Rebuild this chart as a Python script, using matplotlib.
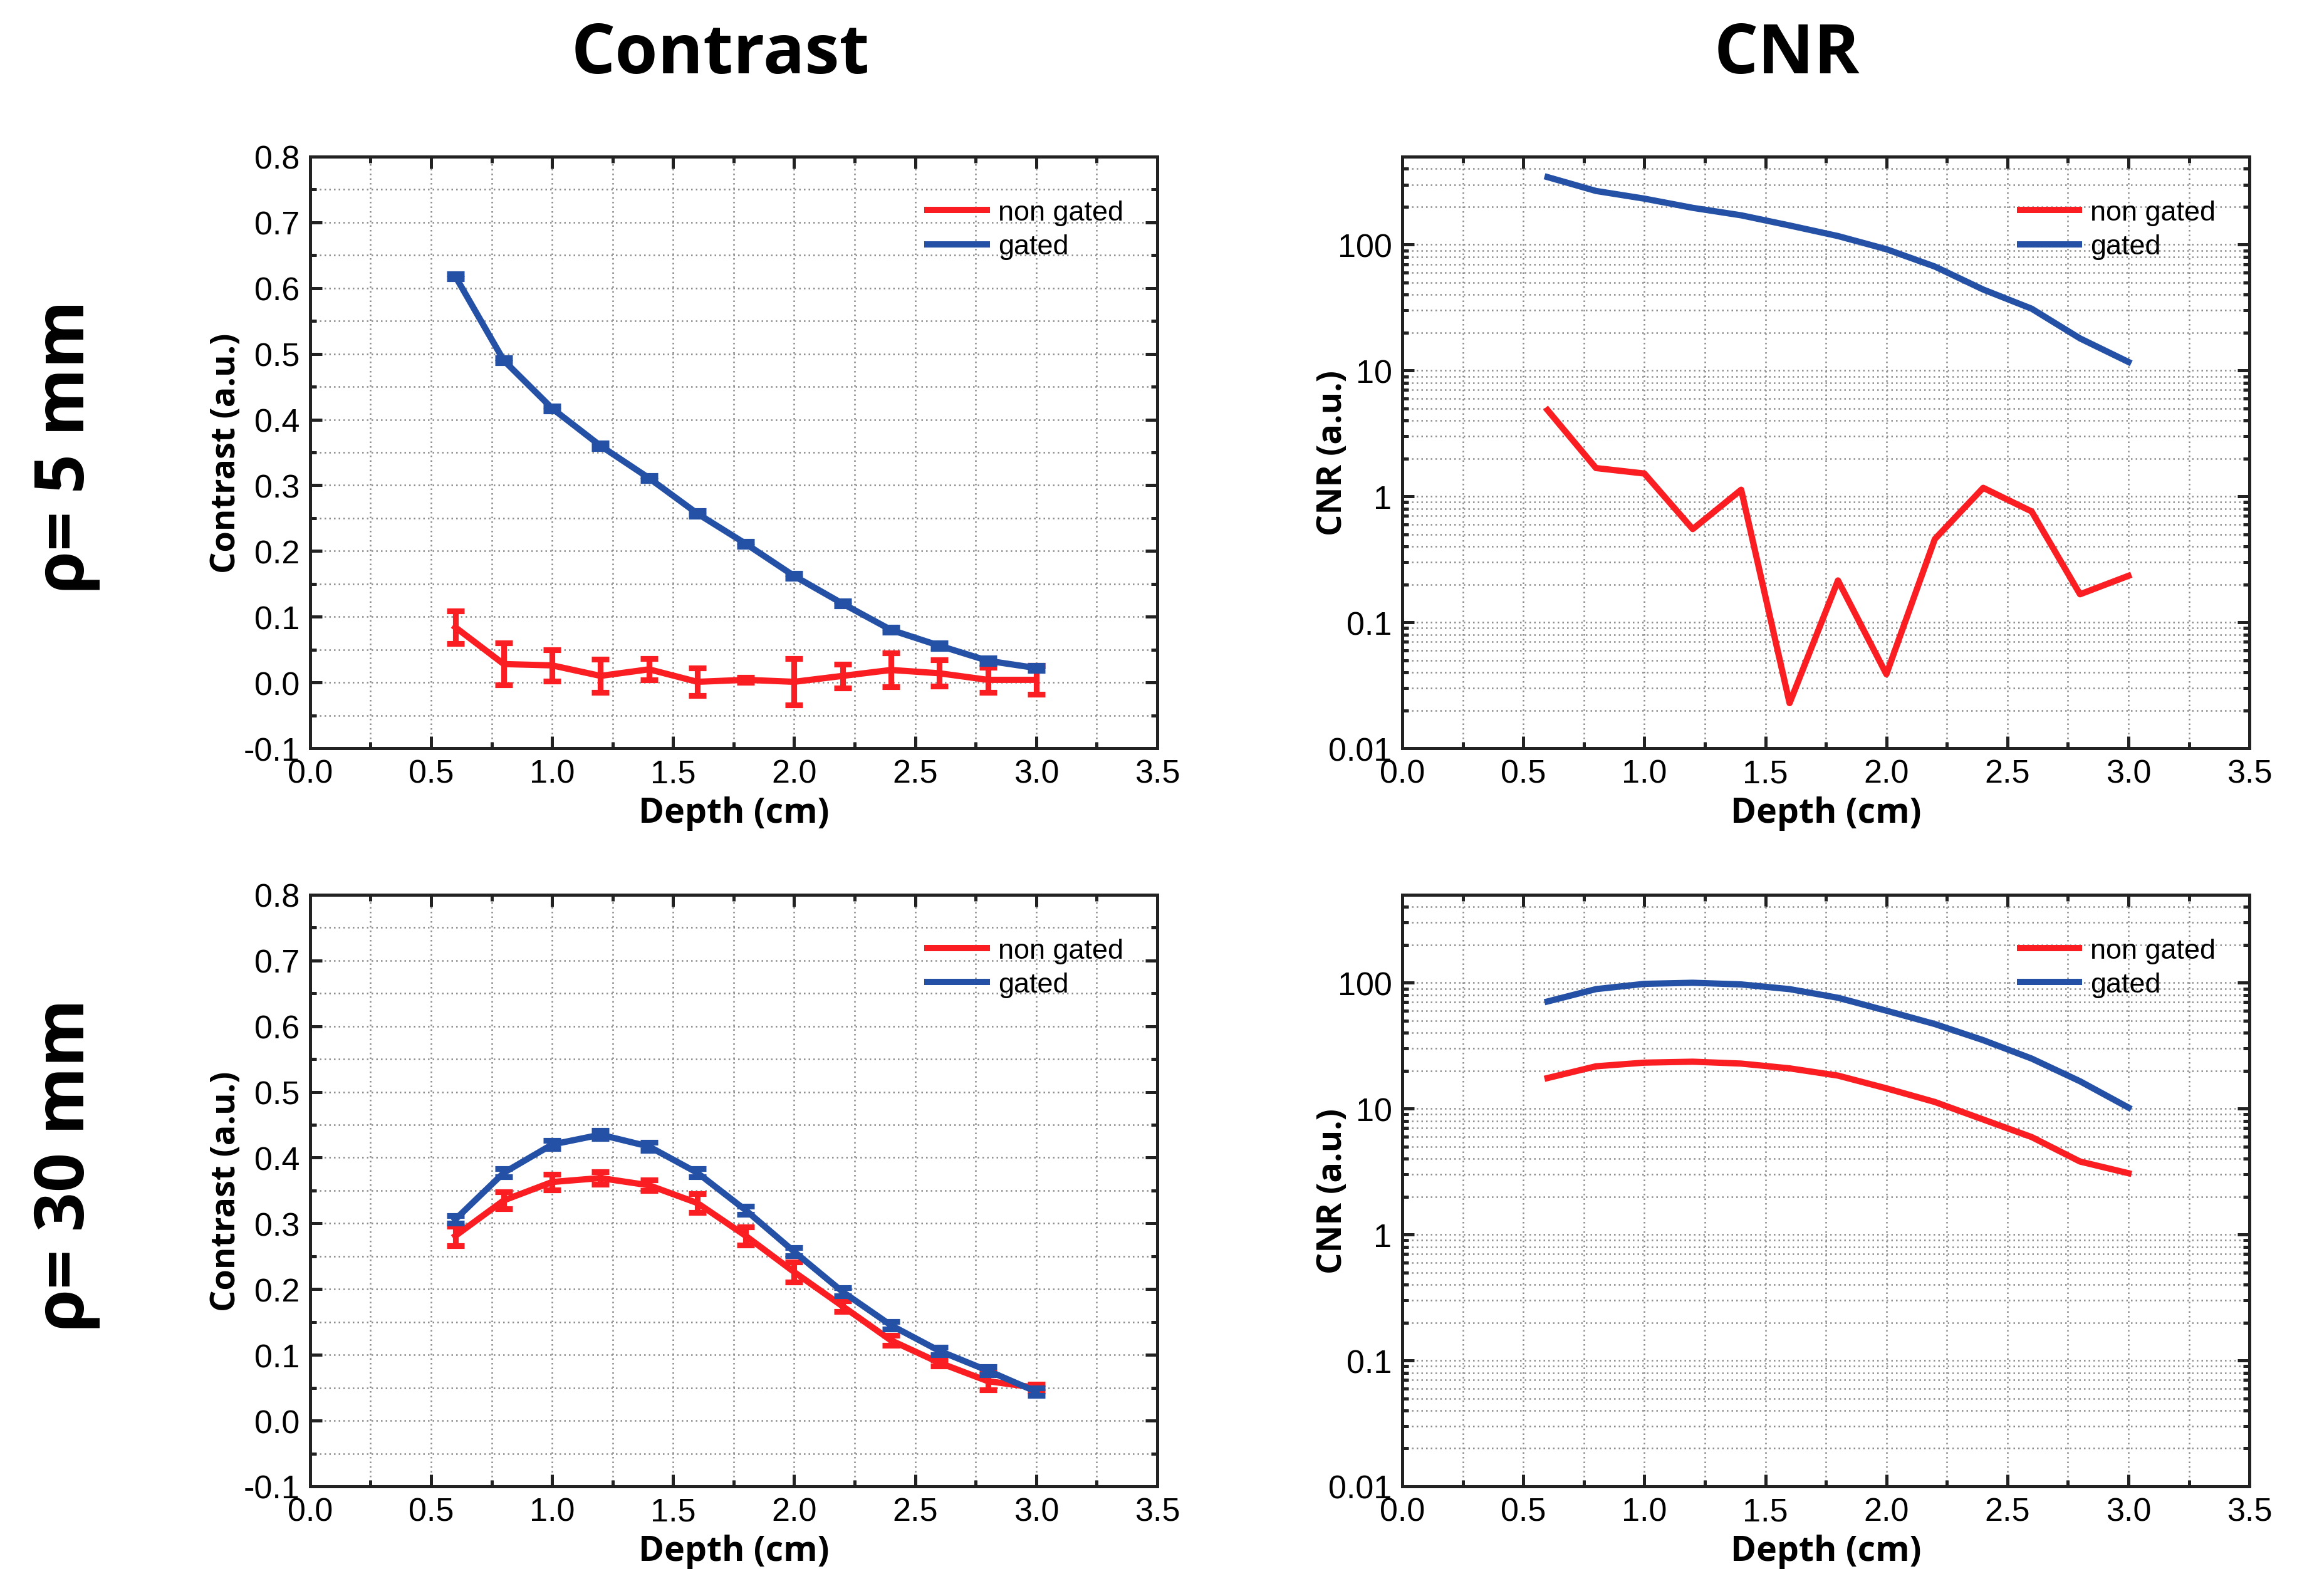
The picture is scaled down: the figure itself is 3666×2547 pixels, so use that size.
import numpy as np
import matplotlib
matplotlib.use("Agg")
import matplotlib.pyplot as plt
from matplotlib.lines import Line2D
from matplotlib.ticker import MultipleLocator, LogLocator, FuncFormatter, NullFormatter

# ---------------- data ----------------
depth = [0.6, 0.8, 1.0, 1.2, 1.4, 1.6, 1.8, 2.0, 2.2, 2.4, 2.6, 2.8, 3.0]

# rho = 5 mm, contrast
c5_gated = [0.618, 0.490, 0.417, 0.360, 0.311, 0.257, 0.211, 0.162, 0.120, 0.080, 0.056, 0.033, 0.022]
c5_gated_err = [0.004] * 13
c5_nongated = [0.084, 0.028, 0.026, 0.010, 0.020, 0.001, 0.004, 0.001, 0.010, 0.019, 0.014, 0.004, 0.004]
c5_nongated_err = [0.025, 0.032, 0.024, 0.025, 0.016, 0.021, 0.004, 0.035, 0.018, 0.026, 0.020, 0.019, 0.022]

# rho = 5 mm, CNR
cnr5_gated = [344, 267, 232, 196, 171, 142, 117, 92, 67, 44, 31, 18, 11.7]
cnr5_nongated = [4.85, 1.68, 1.52, 0.55, 1.13, 0.0228, 0.215, 0.0387, 0.458, 1.17, 0.76, 0.167, 0.234]

# rho = 30 mm, contrast
c30_gated = [0.306, 0.377, 0.420, 0.435, 0.417, 0.377, 0.320, 0.257, 0.196, 0.145, 0.106, 0.076, 0.044]
c30_gated_err = [0.006] * 13
c30_nongated = [0.281, 0.335, 0.363, 0.369, 0.358, 0.331, 0.281, 0.226, 0.174, 0.122, 0.088, 0.060, 0.050]
c30_nongated_err = [0.015, 0.013, 0.012, 0.010, 0.008, 0.014, 0.014, 0.015, 0.008, 0.008, 0.005, 0.013, 0.005]

# rho = 30 mm, CNR
cnr30_gated = [71, 89, 98, 100, 97, 89, 76, 60, 47, 35, 25, 16.5, 10.2]
cnr30_nongated = [17.5, 21.7, 23.2, 23.6, 22.8, 20.9, 18.3, 14.5, 11.3, 8.2, 5.95, 3.8, 3.07]

col_titles = ["Contrast", "CNR"]
row_titles = ["\u03c1= 5 mm", "\u03c1= 30 mm"]
legend_labels = ["non gated", "gated"]

RED = "#fa1e23"
BLUE = "#2450a6"

plt.rcParams['font.family'] = ['Liberation Sans', 'DejaVu Sans']

fig = plt.figure(figsize=(12.22, 8.4933), dpi=300)

W = 0.3688
H = 0.3705
lefts = [0.1350, 0.6105]
bottoms = [0.5310, 0.0687]

bold_font = ['Open Sans', 'DejaVu Sans']
LW = 2.4


def style_axes(ax, log=False):
    for s in ax.spines.values():
        s.set_linewidth(1.2)
        s.set_color('#222222')
    ax.set_xlim(0, 3.5)
    ax.xaxis.set_major_locator(MultipleLocator(0.5))
    ax.xaxis.set_minor_locator(MultipleLocator(0.25))
    ax.xaxis.set_major_formatter(FuncFormatter(lambda v, p: f"{v:.1f}"))
    if log:
        ax.set_yscale('log')
        ax.set_ylim(0.01, 500)
        ax.yaxis.set_major_locator(LogLocator(base=10, numticks=10))
        ax.yaxis.set_minor_locator(LogLocator(base=10, subs=np.arange(2, 10), numticks=20))
        ax.yaxis.set_minor_formatter(NullFormatter())
        ax.yaxis.set_major_formatter(FuncFormatter(lambda v, p: {0.01: "0.01", 0.1: "0.1", 1: "1", 10: "10", 100: "100"}.get(round(v, 3), "")))
    else:
        ax.set_ylim(-0.1, 0.8)
        ax.yaxis.set_major_locator(MultipleLocator(0.1))
        ax.yaxis.set_minor_locator(MultipleLocator(0.05))
        ax.yaxis.set_major_formatter(FuncFormatter(lambda v, p: f"{v:.1f}"))
    ax.tick_params(which='both', direction='in', top=True, right=True, width=1.2, color='#222222')
    ax.tick_params(which='major', length=4.5, labelsize=12.5, pad=4)
    ax.tick_params(which='minor', length=2.5)
    ax.grid(True, which='both', linestyle=(0, (1, 2)), linewidth=0.6, color='#8c8c8c')
    ax.set_axisbelow(True)
    ax.set_xlabel("Depth (cm)", fontsize=13.3, fontweight='bold', family=bold_font, labelpad=2.5)


def add_legend(ax):
    handles = [Line2D([], [], color=RED, lw=LW), Line2D([], [], color=BLUE, lw=LW)]
    ax.legend(handles, legend_labels, loc='upper right', bbox_to_anchor=(0.99, 0.97),
              frameon=False, fontsize=10.8, handlelength=2.1, handletextpad=0.4,
              labelspacing=0.3)


axes = {}
for r in range(2):
    for c in range(2):
        axes[(r, c)] = fig.add_axes([lefts[c], bottoms[r], W, H])

# contrast panels
for r, (g, ge, n, ne) in enumerate([(c5_gated, c5_gated_err, c5_nongated, c5_nongated_err),
                                     (c30_gated, c30_gated_err, c30_nongated, c30_nongated_err)]):
    ax = axes[(r, 0)]
    style_axes(ax, log=False)
    ax.errorbar(depth, n, yerr=ne, color=RED, lw=LW, elinewidth=2.2, capsize=3.4, capthick=2.2, zorder=3)
    ax.errorbar(depth, g, yerr=ge, color=BLUE, lw=LW, elinewidth=2.2, capsize=3.4, capthick=2.2, zorder=4)
    ax.set_ylabel("Contrast (a.u.)", fontsize=13, fontweight='bold', family=bold_font, labelpad=0)
    add_legend(ax)

# CNR panels
for r, (g, n) in enumerate([(cnr5_gated, cnr5_nongated), (cnr30_gated, cnr30_nongated)]):
    ax = axes[(r, 1)]
    style_axes(ax, log=True)
    ax.plot(depth, n, color=RED, lw=LW, zorder=3)
    ax.plot(depth, g, color=BLUE, lw=LW, zorder=4)
    ax.set_ylabel("CNR (a.u.)", fontsize=13, fontweight='bold', family=bold_font, labelpad=-8)
    add_legend(ax)

# column titles
fig.text(1150 / 3666, 1 - 89 / 2548, col_titles[0], fontsize=26.5, fontweight='bold', family=bold_font,
         ha='center', va='center')
fig.text(2852 / 3666, 1 - 89 / 2548, col_titles[1], fontsize=26.5, fontweight='bold', family=bold_font,
         ha='center', va='center')

# row titles
fig.text(105 / 3666, 1 - 713 / 2548, row_titles[0], fontsize=26.5, fontweight='bold', family=bold_font,
         ha='center', va='center', rotation=90)
fig.text(105 / 3666, 1 - 1859 / 2548, row_titles[1], fontsize=26.5, fontweight='bold', family=bold_font,
         ha='center', va='center', rotation=90)

fig.savefig("out.png", dpi=300, facecolor='white')
